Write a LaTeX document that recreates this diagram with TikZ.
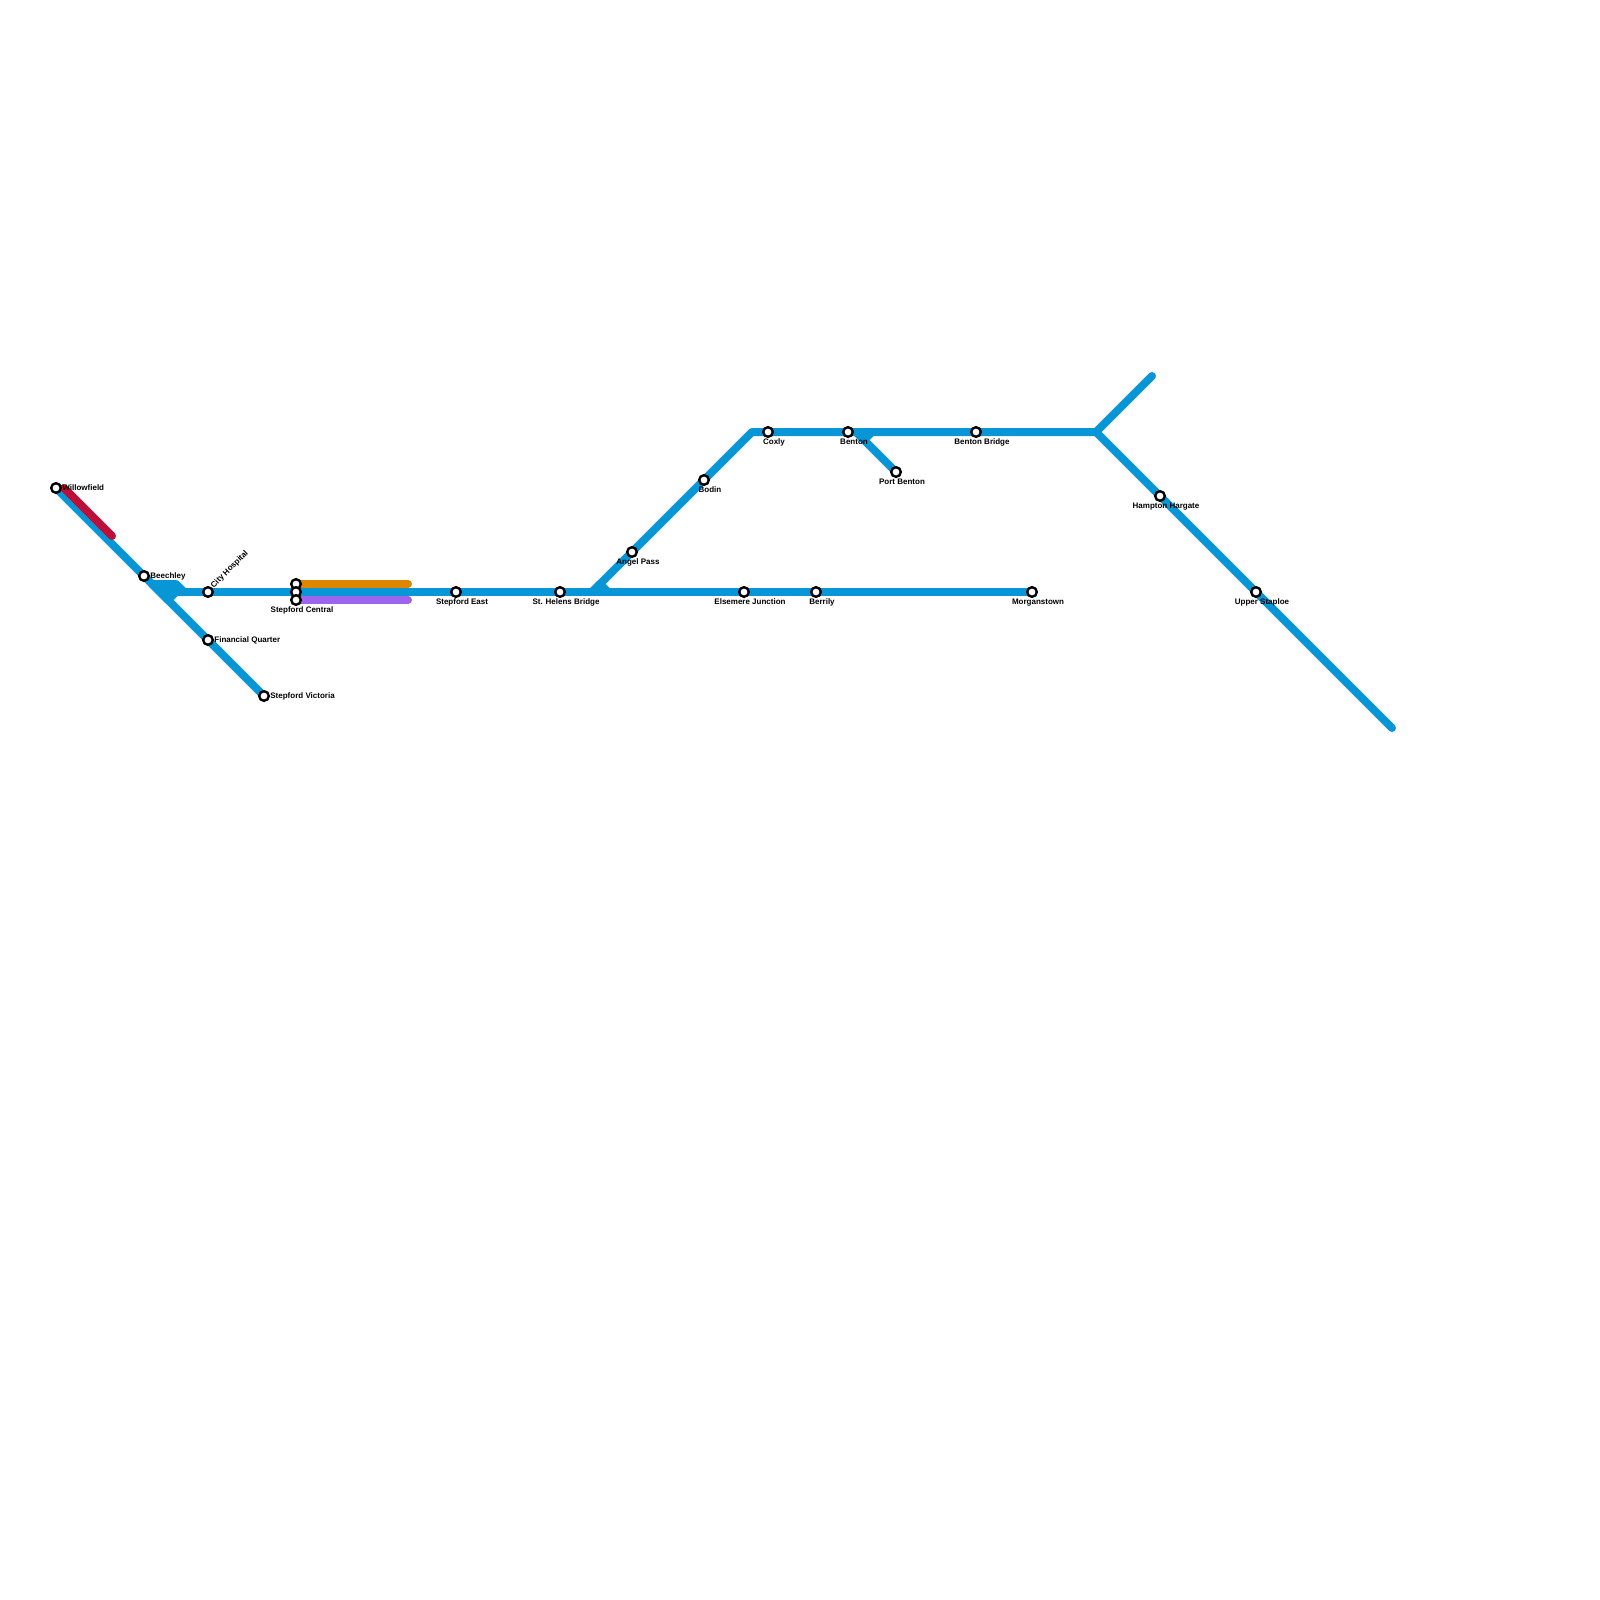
\documentclass[tikz,border=0pt]{standalone}
\usepackage{fontspec}
\setmainfont{Liberation Sans}
\usetikzlibrary{positioning,backgrounds}
\definecolor{metroblue}{HTML}{0896D7}
\definecolor{metrored}{HTML}{BD1038}
\definecolor{metroorange}{HTML}{DF8600}
\definecolor{metropurple}{HTML}{9D65ED}
\tikzset{
  route/.style={line width=8pt,line cap=round,line join=round,draw=metroblue},
  stn/.style={circle,draw=black,line width=2.4pt,fill=white,inner sep=0pt,minimum size=9.6pt},
  lbl/.style={font=\bfseries\fontsize{8pt}{8pt}\selectfont,inner sep=0pt,text height=5.8pt,text depth=1.7pt},
  lblright/.style={lbl,xshift=0.2pt},
  lblbelow/.style={lbl,xshift=6pt}
}
\begin{document}
\begin{tikzpicture}[x=1pt,y=-1pt]
\useasboundingbox (0,0) rectangle (1600,1600);

\node[stn] (willowfield) at (56,488) {};
\node[stn] (beechley) at (144,576) {};
\node[stn] (cityhosp) at (208,592) {};
\node[stn] (finquarter) at (208,640) {};
\node[stn] (victoria) at (264,696) {};
\node[stn] (centralo) at (296,584) {};
\node[stn] (centralb) at (296,592) {};
\node[stn] (centralp) at (296,600) {};
\node[stn] (east) at (456,592) {};
\node[stn] (sthelens) at (560,592) {};
\node[stn] (angel) at (632,552) {};
\node[stn] (bodin) at (704,480) {};
\node[stn] (coxly) at (768,432) {};
\node[stn] (benton) at (848,432) {};
\node[stn] (portbenton) at (896,472) {};
\node[stn] (bentonbr) at (976,432) {};
\node[stn] (elsemere) at (744,592) {};
\node[stn] (berrily) at (816,592) {};
\node[stn] (morganstown) at (1032,592) {};
\node[stn] (hampton) at (1160,496) {};
\node[stn] (staploe) at (1256,592) {};

\coordinate (redstart) at (64,488);
\coordinate (redend) at (112,536);
\coordinate (blobw) at (152,584);
\coordinate (blobn) at (176,584);
\coordinate (blobe) at (184,592);
\coordinate (blobc) at (176,592);
\coordinate (blobs) at (168,600);
\coordinate (orangeend) at (408,584);
\coordinate (purpleend) at (408,600);
\coordinate (forkw) at (592,592);
\coordinate (forkn) at (600,584);
\coordinate (forke) at (608,592);
\coordinate (topleft) at (752,432);
\coordinate (portw) at (856,432);
\coordinate (portj) at (864,440);
\coordinate (porte) at (872,432);
\coordinate (topright) at (1096,432);
\coordinate (spur) at (1152,376);
\coordinate (southend) at (1392,728);

\begin{scope}[on background layer]
\draw[route] (willowfield.center) -- (victoria.center);
\draw[route,fill=metroblue] (blobw) -- (blobn) -- (blobe) -- (blobc) -- (blobs) -- cycle;
\draw[route] (blobc) -- (centralb.center) -- (morganstown.center);
\draw[route] (forkw) -- (forkn) -- (forke);
\draw[route] (forkw) -- (topleft) -- (topright) -- (southend);
\draw[route] (topright) -- (spur);
\draw[route] (portbenton.center) -- (portw);
\draw[route] (portj) -- (porte);
\draw[route,draw=metrored] (redstart) -- (redend);
\draw[route,draw=metroorange] (centralo.center) -- (orangeend);
\draw[route,draw=metropurple] (centralp.center) -- (purpleend);
\end{scope}

\node[lblright,right=0pt of willowfield] (willowfieldlbl) {Willowfield};
\node[lblright,right=0pt of beechley] (beechleylbl) {Beechley};
\node[lblright,right=0pt of finquarter] (finquarterlbl) {Financial Quarter};
\node[lblright,right=0pt of victoria] (victorialbl) {Stepford Victoria};
\node[lbl,rotate=45,anchor=west,xshift=6.6pt,yshift=0.5pt] (cityhosplbl) at (cityhosp) {City Hospital};
\node[lblbelow,below=0.6pt of centralp] (centrallbl) {Stepford Central};
\node[lblbelow,below=0.6pt of east] (eastlbl) {Stepford East};
\node[lblbelow,below=0.6pt of sthelens] (sthelenslbl) {St. Helens Bridge};
\node[lblbelow,below=0.6pt of angel] (angellbl) {Angel Pass};
\node[lblbelow,below=0.6pt of bodin] (bodinlbl) {Bodin};
\node[lblbelow,below=0.6pt of coxly] (coxlylbl) {Coxly};
\node[lblbelow,below=0.6pt of benton] (bentonlbl) {Benton};
\node[lblbelow,below=0.6pt of portbenton] (portbentonlbl) {Port Benton};
\node[lblbelow,below=0.6pt of bentonbr] (bentonbrlbl) {Benton Bridge};
\node[lblbelow,below=0.6pt of elsemere] (elsemerelbl) {Elsemere Junction};
\node[lblbelow,below=0.6pt of berrily] (berrilylbl) {Berrily};
\node[lblbelow,below=0.6pt of morganstown] (morganstownlbl) {Morganstown};
\node[lblbelow,below=0.6pt of hampton] (hamptonlbl) {Hampton Hargate};
\node[lblbelow,below=0.6pt of staploe] (staploelbl) {Upper Staploe};
\end{tikzpicture}
\end{document}
